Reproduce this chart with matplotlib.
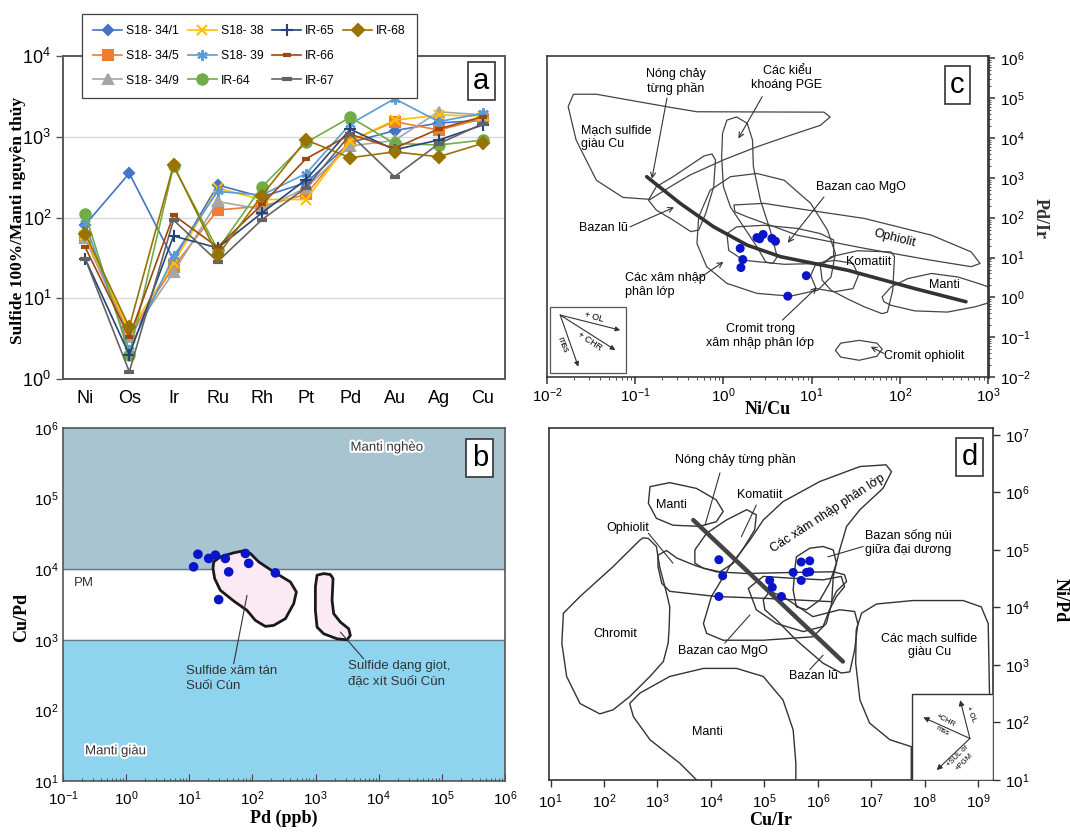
import numpy as np
import matplotlib.pyplot as plt
from matplotlib.patches import Polygon, Rectangle
from matplotlib.lines import Line2D
from matplotlib.ticker import LogLocator, NullFormatter
import matplotlib.patheffects as pe

SANS = ['Liberation Sans', 'DejaVu Sans']
SERIF = ['Liberation Serif', 'DejaVu Serif']
plt.rcParams['font.family'] = SANS
plt.rcParams['mathtext.fontset'] = 'custom'
plt.rcParams['mathtext.rm'] = 'Liberation Sans'
plt.rcParams['mathtext.it'] = 'Liberation Sans:italic'
plt.rcParams['mathtext.bf'] = 'Liberation Sans:bold'

# ---------------- (a) 100% sulfide / primitive mantle ----------------
elements = ['Ni', 'Os', 'Ir', 'Ru', 'Rh', 'Pt', 'Pd', 'Au', 'Ag', 'Cu']
s18_34_1 = [81, 353, 30, 252, 180, 270, 850, 1190, 1480, 1600]
s18_34_5 = [58, 3.5, 24.6, 124, 138, 193, 890, 1540, 1210, 1680]
s18_34_9 = [55, 3.3, 21, 158, 126, 234, 770, 900, 2040, 1860]
s18_38 = [60, 3.9, 27, 230, 167, 167, 890, 1600, 1860, 1800]
s18_39 = [85, 2.3, 33, 210, 190, 350, 1440, 2960, 1540, 1950]
ir_64 = [112, 2.0, 430, 40, 240, 850, 1740, 827, 790, 910]
ir_65 = [31, 2.0, 59, 42, 114, 295, 1240, 690, 910, 1400]
ir_66 = [43, 3.3, 107, 43, 145, 535, 1070, 720, 1250, 1780]
ir_67 = [31, 1.23, 93, 28.5, 94, 235, 1070, 320, 820, 1450]
ir_68 = [63, 4.4, 445, 34, 187, 912, 550, 650, 565, 830]

sample_names = ['S18- 34/1', 'S18- 34/5', 'S18- 34/9', 'S18- 38', 'S18- 39',
                'IR-64', 'IR-65', 'IR-66', 'IR-67', 'IR-68']
sample_values = [s18_34_1, s18_34_5, s18_34_9, s18_38, s18_39,
                 ir_64, ir_65, ir_66, ir_67, ir_68]
sample_colors = ['#4472C4', '#ED7D31', '#A5A5A5', '#FFC000', '#5B9BD5',
                 '#70AD47', '#264478', '#9E480E', '#636363', '#997300']
sample_markers = ['D', 's', '^', 'x', (6, 2, 0), 'o', '+', '_', '_', 'D']
sample_msize = [5.5, 6.5, 6.5, 6.5, 7.5, 7.5, 8.5, 6, 7, 6.5]

# ---------------- (b) Cu/Pd vs Pd ----------------
pd_ppb = [13.7, 11.7, 20.3, 25.9, 37.2, 77.3, 87.3, 42.1, 231, 29.2]
cu_pd = [16300, 10800, 14200, 15800, 14200, 16700, 12100, 9170, 8870, 3710]

# fields in log10 units (x, y)
field_disseminated = [(1.386, 4.104), (1.492, 4.175), (1.703, 4.232), (1.835, 4.256),
                      (1.967, 4.223), (2.099, 4.104), (2.337, 3.962), (2.601, 3.820),
                      (2.696, 3.678), (2.654, 3.512), (2.522, 3.299), (2.337, 3.204),
                      (2.205, 3.190), (2.046, 3.275), (1.914, 3.417), (1.703, 3.550),
                      (1.492, 3.701), (1.402, 3.867), (1.376, 4.009)]
field_massive = [(3.023, 3.915), (3.129, 3.938), (3.234, 3.924), (3.277, 3.867),
                 (3.261, 3.559), (3.287, 3.370), (3.393, 3.251), (3.525, 3.156),
                 (3.551, 3.062), (3.498, 3.000), (3.340, 3.014), (3.129, 3.085),
                 (3.023, 3.180), (2.997, 3.417), (2.997, 3.749)]

# ---------------- (c) Pd/Ir vs Ni/Cu ----------------
ni_cu = [2.40, 2.82, 2.57, 3.55, 3.89, 1.55, 1.66, 1.58, 8.71, 5.37]
pd_ir = [31.6, 38.0, 29.5, 30.2, 25.7, 17.0, 8.9, 5.6, 3.5, 1.07]

c_cu_veins = [(-1.70, 5.10), (-1.44, 5.10), (-1.06, 4.95), (-0.60, 4.77), (-0.30, 4.66),
              (1.14, 4.65), (1.21, 4.53), (1.10, 4.32), (0.76, 4.07), (0.38, 3.78),
              (0.00, 3.45), (-0.38, 3.07), (-0.60, 2.78), (-0.83, 2.46), (-1.14, 2.51),
              (-1.44, 2.94), (-1.67, 3.95), (-1.76, 4.79)]
c_flood = [(-0.85, 2.44), (-0.76, 2.78), (-0.57, 3.03), (-0.22, 3.55), (-0.13, 3.60),
           (-0.09, 3.45), (-0.11, 2.78), (-0.20, 2.11), (-0.28, 1.69), (-0.37, 1.65),
           (-0.57, 1.94), (-0.76, 2.19)]
c_pge = [(0.04, 4.45), (0.15, 4.53), (0.27, 4.37), (0.33, 3.95), (0.34, 3.28),
         (0.42, 2.44), (0.53, 1.69), (0.61, 1.02), (0.56, 0.85), (0.48, 0.89),
         (0.38, 1.27), (0.23, 1.77), (0.08, 2.27), (0.00, 2.78), (-0.02, 3.53),
         (-0.01, 4.12)]
c_layered = [(-0.28, 2.02), (-0.15, 2.69), (0.08, 3.03), (0.38, 3.11), (0.69, 2.94),
             (0.99, 2.36), (1.18, 1.69), (1.27, 1.10), (1.22, 0.51), (1.07, 0.18),
             (0.76, 0.03), (0.38, 0.10), (0.04, 0.35), (-0.19, 0.77), (-0.30, 1.35)]
c_high_mgo = [(0.04, 1.60), (0.15, 1.77), (0.46, 1.81), (0.84, 1.73), (1.10, 1.60),
              (1.25, 1.44), (1.25, 1.02), (1.10, 0.85), (0.69, 0.83), (0.23, 0.93),
              (0.06, 1.18)]
c_ophiolite = [(0.12, 2.32), (0.46, 2.36), (0.84, 2.23), (1.60, 1.98), (2.36, 1.56),
               (2.81, 1.14), (2.91, 0.85), (2.81, 0.77), (2.36, 0.93), (1.60, 1.23),
               (0.84, 1.56), (0.27, 2.02), (0.13, 2.15)]
c_komatiite = [(1.10, 0.77), (1.22, 1.02), (1.52, 1.17), (1.90, 1.14), (1.94, 1.02),
               (1.92, 0.18), (1.86, -0.37), (1.80, -0.41), (1.60, -0.24), (1.40, -0.03),
               (1.22, 0.18), (1.12, 0.43)]
c_chr_layered = [(0.99, 0.55), (1.05, 0.85), (1.26, 0.93), (1.47, 0.85), (1.53, 0.55),
                 (1.47, 0.22), (1.26, 0.14), (1.05, 0.22)]
c_mantle = [(1.80, 0.01), (1.90, 0.26), (2.09, 0.47), (2.36, 0.60), (2.66, 0.51),
            (2.89, 0.35), (3.11, 0.18), (3.11, -0.07), (2.85, -0.24), (2.54, -0.37),
            (2.17, -0.34), (1.90, -0.20), (1.82, -0.11)]
c_chr_ophiolite = [(1.27, -1.33), (1.33, -1.15), (1.54, -1.08), (1.74, -1.15), (1.80, -1.30),
                   (1.74, -1.48), (1.54, -1.58), (1.33, -1.50)]
c_melting_trend = [(-0.87, 3.03), (-0.49, 2.36), (-0.11, 1.77), (0.27, 1.31), (0.65, 1.02),
                   (1.03, 0.85), (1.41, 0.68), (1.79, 0.45), (2.17, 0.22), (2.75, -0.11)]

# ---------------- (d) Ni/Pd vs Cu/Ir ----------------
cu_ir = [14100, 16600, 14100, 126000, 141000, 209000, 347000, 490000, 708000, 708000,
         617000, 490000]
ni_pd = [67600, 35500, 15500, 29500, 22400, 15500, 40700, 61700, 64600, 41700,
         40700, 29500]

d_chromite = [(2.73, 5.21), (2.83, 5.20), (2.98, 5.06), (3.04, 4.71), (3.17, 4.25),
              (3.23, 4.01), (3.22, 3.67), (3.20, 3.38), (3.11, 3.06), (2.86, 2.80),
              (2.48, 2.45), (2.17, 2.22), (1.92, 2.15), (1.55, 2.33), (1.30, 2.80),
              (1.21, 3.38), (1.24, 3.90), (1.55, 4.19), (2.17, 4.71), (2.67, 5.17)]
d_mantle_low = [(2.48, 2.33), (2.67, 2.51), (3.23, 2.80), (3.86, 2.94), (4.48, 2.94),
                (4.98, 2.80), (5.35, 2.39), (5.54, 1.87), (5.59, 1.29), (5.59, 0.77),
                (3.98, 0.77), (3.42, 1.29), (2.86, 1.70), (2.55, 2.10)]
d_mantle_up = [(2.86, 6.10), (3.23, 6.17), (3.73, 6.07), (4.10, 5.87), (4.23, 5.67),
               (4.10, 5.49), (3.79, 5.41), (3.29, 5.43), (2.98, 5.55), (2.83, 5.81)]
d_komatiite = [(3.70, 4.77), (3.70, 5.00), (3.92, 5.29), (4.29, 5.52), (4.67, 5.70),
               (4.85, 5.61), (4.82, 5.35), (4.63, 5.06), (4.42, 4.77), (4.17, 4.62),
               (3.86, 4.68)]
d_ophiolite = [(3.01, 4.91), (3.17, 4.99), (3.36, 4.86), (3.73, 4.72), (4.10, 4.62),
               (4.67, 4.59), (5.60, 4.61), (6.29, 4.62), (6.50, 4.57), (6.54, 4.45),
               (6.35, 4.28), (6.26, 4.10), (4.98, 4.16), (4.10, 4.19), (3.23, 4.28),
               (3.08, 4.42), (3.01, 4.71)]
d_layered = [(3.86, 3.72), (4.01, 4.19), (4.35, 4.71), (4.73, 5.17), (4.98, 5.52),
             (5.35, 5.84), (6.04, 6.19), (6.79, 6.45), (7.28, 6.48), (7.38, 6.36),
             (7.22, 6.07), (6.79, 5.70), (6.54, 5.41), (6.41, 5.00), (6.29, 4.54),
             (6.26, 4.07), (6.16, 3.72), (5.91, 3.49), (4.98, 3.43), (4.23, 3.43),
             (3.92, 3.55)]
d_morb = [(5.60, 4.88), (5.85, 5.03), (6.10, 5.06), (6.29, 5.00), (6.35, 4.77),
          (6.22, 4.42), (6.04, 4.13), (5.79, 3.96), (5.60, 4.01), (5.54, 4.30),
          (5.57, 4.65)]
d_high_mgo = [(4.70, 4.33), (4.98, 4.54), (5.48, 4.51), (6.10, 4.48), (6.44, 4.54),
              (6.50, 4.36), (6.35, 4.19), (6.22, 3.96), (6.10, 3.67), (5.73, 3.58),
              (5.23, 3.72), (4.85, 3.96)]
d_flood = [(4.98, 4.13), (5.10, 4.28), (5.35, 4.19), (5.91, 3.84), (6.41, 3.96),
           (6.69, 3.93), (6.75, 3.72), (6.69, 3.26), (6.60, 2.88), (6.44, 2.86),
           (6.10, 3.03), (5.60, 3.43), (5.23, 3.78), (5.01, 3.96)]
d_cu_veins = [(6.72, 3.61), (6.82, 3.90), (7.10, 4.06), (7.78, 4.12), (8.72, 4.12),
              (9.06, 4.01), (9.19, 3.72), (9.25, 0.77), (7.75, 0.77), (7.75, 1.58),
              (7.35, 1.70), (6.97, 1.99), (6.79, 2.39), (6.71, 3.03)]
d_melting_trend = [(3.67, 5.52), (6.47, 3.06)]


def lg(pts):
    return np.power(10.0, np.asarray(pts, dtype=float))


def P(lx, ly):
    return (10.0 ** lx, 10.0 ** ly)


W, H = 1070, 832
fig = plt.figure(figsize=(W / 100, H / 100), dpi=100)


def add_axes_px(left, top, right, bottom):
    return fig.add_axes([left / W, 1 - bottom / H, (right - left) / W, (bottom - top) / H])


def log_ticks(axis):
    axis.set_major_locator(LogLocator(base=10, numticks=20))
    axis.set_minor_locator(LogLocator(base=10, subs=np.arange(2, 10), numticks=20))
    axis.set_minor_formatter(NullFormatter())


def frame(ax, color='#3a3a3a', lw=1.2):
    for s in ax.spines.values():
        s.set_color(color)
        s.set_linewidth(lw)


def letter(ax, ch, x, y):
    ax.text(x, y, ch, transform=ax.transAxes, fontsize=21, ha='center', va='center',
            zorder=10, bbox=dict(boxstyle='square,pad=0.18', fc='white', ec='#333333', lw=1.2))


def draw_field(ax, pts, lw=0.9, **kw):
    kw.setdefault('fc', 'none')
    kw.setdefault('ec', '#444444')
    ax.add_patch(Polygon(lg(pts), closed=True, lw=lw, joinstyle='round', zorder=2, **kw))


def arrow(ax, start, end, style='->', lw=0.8):
    ax.annotate('', xy=P(*end), xytext=P(*start),
                arrowprops=dict(arrowstyle=style, lw=lw, color='#333333',
                                shrinkA=0, shrinkB=0, mutation_scale=9), zorder=6)


# ====================== panel a ======================
ax_a = add_axes_px(63, 56, 505, 379)
xpos = np.arange(len(elements))
handles = []
for name, vals, col, mk, ms in zip(sample_names, sample_values, sample_colors,
                                   sample_markers, sample_msize):
    mew = 3 if mk == '_' else 1.5
    h, = ax_a.plot(xpos, vals, color=col, lw=1.2, marker=mk, ms=ms, mfc=col, mec=col,
                   mew=mew, label=name, zorder=3)
    handles.append(h)
ax_a.set_yscale('log')
ax_a.set_ylim(1, 1e4)
ax_a.set_xlim(-0.5, 9.5)
ax_a.set_xticks(xpos)
ax_a.set_xticklabels(elements, fontsize=13)
ax_a.tick_params(axis='x', length=0, pad=8)
ax_a.set_yticks([1, 10, 100, 1000, 10000])
ax_a.yaxis.set_minor_locator(plt.NullLocator())
ax_a.tick_params(axis='y', labelsize=13, length=5, width=1, color='#555555', direction='out')
ax_a.grid(axis='y', color='#d9d9d9', lw=1, zorder=0)
frame(ax_a, '#595959', 1.4)
letter(ax_a, 'a', 0.946, 0.923)
fig.text(18 / W, 1 - 220 / H, 'Sulfide 100%/Manti nguyên thủy', rotation=90,
         ha='center', va='center', fontsize=12.5, fontweight='bold', family=SERIF)

blank = Line2D([], [], lw=0, alpha=0)
leg = fig.legend(handles + [blank, blank], sample_names + [' ', ' '], ncol=4,
                 loc='upper left', bbox_to_anchor=(76 / W, 1 - 8 / H), frameon=True,
                 fancybox=False, edgecolor='#404040', framealpha=1, fontsize=8.8,
                 handlelength=2.4, handletextpad=0.3, columnspacing=0.7,
                 labelspacing=1.05, borderpad=0.9)
leg.get_frame().set_linewidth(0.9)

# ====================== panel b ======================
ax_b = add_axes_px(63, 428, 505, 781)
ax_b.set_xscale('log')
ax_b.set_yscale('log')
ax_b.set_xlim(0.1, 1e6)
ax_b.set_ylim(10, 1e6)
ax_b.axhspan(1e4, 1e6, color='#a7c4d0', zorder=0)
ax_b.axhspan(10, 1e3, color='#8fd4ef', zorder=0)
ax_b.axhline(1e4, color='#647a84', lw=1, zorder=1)
ax_b.axhline(1e3, color='#647a84', lw=1, zorder=1)
draw_field(ax_b, field_disseminated, lw=2, fc='#fbeaf4', ec='#1a1a1a')
draw_field(ax_b, field_massive, lw=2, fc='#fbeaf4', ec='#1a1a1a')
ax_b.scatter(pd_ppb, cu_pd, s=48, color='#0a14c8', edgecolors='none', zorder=5)
halo = [pe.withStroke(linewidth=3, foreground='white')]
ax_b.text(*P(4.13, 5.72), 'Manti nghèo', ha='center', va='center', fontsize=9.5,
          color='#333333', path_effects=halo)
ax_b.text(*P(-0.82, 3.80), 'PM', ha='left', va='center', fontsize=9.5, color='#333333')
ax_b.text(*P(-0.65, 1.42), 'Manti giàu', ha='left', va='center', fontsize=9.5,
          color='#333333', path_effects=halo)
ax_b.text(*P(0.95, 2.45), 'Sulfide xâm tán\nSuối Cùn', ha='left', va='center',
          fontsize=9.5, color='#333333', linespacing=1.3)
ax_b.text(*P(3.52, 2.52), 'Sulfide dạng giọt,\nđặc xít Suối Cùn', ha='left',
          va='center', fontsize=9.5, color='#333333', linespacing=1.3)
arrow(ax_b, (1.914, 3.630), (1.703, 2.66), style='-')
arrow(ax_b, (3.393, 3.109), (3.763, 2.73), style='-')
log_ticks(ax_b.xaxis)
log_ticks(ax_b.yaxis)
ax_b.tick_params(axis='x', which='both', direction='in', labelsize=11, color='#444444',
                 pad=6)
ax_b.tick_params(axis='x', which='major', length=5)
ax_b.tick_params(axis='x', which='minor', length=2.5)
ax_b.tick_params(axis='y', which='both', length=0, labelsize=11, pad=3)
frame(ax_b, '#555555', 1.2)
letter(ax_b, 'b', 0.943, 0.915)
ax_b.set_xlabel('Pd (ppb)', fontsize=13, fontweight='bold', family=SERIF, labelpad=1)
fig.text(22 / W, 1 - 618 / H, 'Cu/Pd', rotation=90, ha='center', va='center',
         fontsize=13, fontweight='bold', family=SERIF)

# ====================== panel c ======================
ax_c = add_axes_px(547, 56, 988, 377)
ax_c.set_xscale('log')
ax_c.set_yscale('log')
ax_c.set_xlim(1e-2, 1e3)
ax_c.set_ylim(1e-2, 10 ** 6.06)
for f in [c_cu_veins, c_flood, c_pge, c_layered, c_high_mgo, c_ophiolite,
          c_komatiite, c_chr_layered, c_mantle, c_chr_ophiolite]:
    draw_field(ax_c, f)
trend = lg(c_melting_trend)
ax_c.plot(trend[:, 0], trend[:, 1], color='#333333', lw=2.6, solid_capstyle='round', zorder=4)
ax_c.scatter(ni_cu, pd_ir, s=42, color='#0a14c8', edgecolors='none', zorder=5)

fs = 9
ax_c.text(*P(-0.54, 5.41), 'Nóng chảy\ntừng phần', ha='center', va='center', fontsize=fs)
arrow(ax_c, (-0.64, 5.0), (-0.81, 2.98))
ax_c.text(*P(0.72, 5.50), 'Các kiểu\nkhoáng PGE', ha='center', va='center', fontsize=fs)
arrow(ax_c, (0.44, 5.04), (0.17, 3.99))
ax_c.text(*P(-1.61, 4.03), 'Mạch sulfide\ngiàu Cu', ha='left', va='center', fontsize=fs)
ax_c.text(*P(-1.64, 1.75), 'Bazan lũ', ha='left', va='center', fontsize=fs)
arrow(ax_c, (-1.06, 1.77), (-0.56, 2.26))
ax_c.text(*P(1.05, 2.78), 'Bazan cao MgO', ha='left', va='center', fontsize=fs)
arrow(ax_c, (1.14, 2.52), (0.73, 1.37))
ax_c.text(*P(1.94, 1.48), 'Ophiolit', ha='center', va='center', fontsize=fs, rotation=-14)
ax_c.text(*P(1.65, 0.89), 'Komatiit', ha='center', va='center', fontsize=fs)
ax_c.text(*P(2.51, 0.30), 'Manti', ha='center', va='center', fontsize=fs)
ax_c.text(*P(-1.12, 0.30), 'Các xâm nhập\nphân lớp', ha='left', va='center', fontsize=fs)
arrow(ax_c, (-0.28, 0.47), (0.0, 0.89))
ax_c.text(*P(0.42, -0.98), 'Cromit trong\nxâm nhập phân lớp', ha='center', va='center',
          fontsize=fs)
arrow(ax_c, (0.67, -0.57), (1.06, 0.25))
ax_c.text(*P(1.82, -1.48), 'Cromit ophiolit', ha='left', va='center', fontsize=fs)
arrow(ax_c, (1.82, -1.41), (1.67, -1.24))

# vector inset
ax_c.add_patch(Rectangle((0.007, 0.012), 0.173, 0.206, transform=ax_c.transAxes,
                         fc='white', ec='#555555', lw=0.9, zorder=7))
o = (0.030, 0.193)
for tip in [(0.166, 0.146), (0.155, 0.084), (0.071, 0.032)]:
    ax_c.annotate('', xy=tip, xytext=o, xycoords='axes fraction',
                  arrowprops=dict(arrowstyle='-|>', lw=0.8, color='#333333',
                                  shrinkA=0, shrinkB=0, mutation_scale=7), zorder=8)
ax_c.text(0.106, 0.186, '+ OL', transform=ax_c.transAxes, fontsize=6.5, rotation=-15,
          ha='center', va='center', zorder=8)
ax_c.text(0.098, 0.112, '+ CHR', transform=ax_c.transAxes, fontsize=6.5, rotation=-33,
          ha='center', va='center', zorder=8)
ax_c.text(0.036, 0.100, 'mss', transform=ax_c.transAxes, fontsize=6.5, rotation=-68,
          ha='center', va='center', zorder=8)

log_ticks(ax_c.xaxis)
log_ticks(ax_c.yaxis)
ax_c.yaxis.tick_right()
ax_c.tick_params(axis='both', which='both', direction='out', labelsize=11, color='#333333')
ax_c.tick_params(axis='both', which='major', length=5, width=1.1)
ax_c.tick_params(axis='both', which='minor', length=2.5)
ax_c.tick_params(axis='x', pad=2)
frame(ax_c, '#3a3a3a', 1.2)
ax_c.spines['right'].set_linewidth(2)
letter(ax_c, 'c', 0.93, 0.91)
ax_c.set_xlabel('Ni/Cu', fontsize=13, fontweight='bold', family=SERIF, labelpad=-3)
fig.text(1040 / W, 1 - 218 / H, 'Pd/Ir', rotation=270, ha='center', va='center',
         fontsize=13, fontweight='bold', family=SERIF, color='#333333')

# ====================== panel d ======================
ax_d = add_axes_px(549, 428, 993, 780)
ax_d.set_xscale('log')
ax_d.set_yscale('log')
ax_d.set_xlim(10 ** 0.97, 10 ** 9.28)
ax_d.set_ylim(10, 10 ** 7.12)
for f in [d_chromite, d_mantle_low, d_mantle_up, d_komatiite, d_ophiolite, d_layered,
          d_morb, d_high_mgo, d_flood, d_cu_veins]:
    draw_field(ax_d, f, lw=1.0, ec='#333333')
trend = lg(d_melting_trend)
ax_d.plot(trend[:, 0], trend[:, 1], color='#444444', lw=3.2, solid_capstyle='round', zorder=4)
ax_d.scatter(cu_ir, ni_pd, s=42, color='#0a14c8', edgecolors='none', zorder=5)

ax_d.text(*P(4.45, 6.57), 'Nóng chảy từng phần', ha='center', va='center', fontsize=fs)
arrow(ax_d, (4.17, 6.34), (3.89, 5.43), style='-')
ax_d.text(*P(3.26, 5.78), 'Manti', ha='center', va='center', fontsize=fs)
ax_d.text(*P(4.92, 5.96), 'Komatiit', ha='center', va='center', fontsize=fs)
arrow(ax_d, (4.85, 5.78), (4.57, 5.23), style='-')
ax_d.text(*P(2.45, 5.38), 'Ophiolit', ha='center', va='center', fontsize=fs)
arrow(ax_d, (2.83, 5.29), (3.29, 4.77), style='-')
ax_d.text(*P(6.19, 5.64), 'Các xâm nhập phân lớp', ha='center', va='center',
          fontsize=fs, rotation=33)
ax_d.text(*P(6.88, 5.13), 'Bazan sống núi\ngiữa đại dương', ha='left', va='center',
          fontsize=fs)
arrow(ax_d, (6.85, 5.06), (6.19, 4.88), style='-')
ax_d.text(*P(2.22, 3.54), 'Chromit', ha='center', va='center', fontsize=fs)
ax_d.text(*P(4.23, 3.25), 'Bazan cao MgO', ha='center', va='center', fontsize=fs)
arrow(ax_d, (4.26, 3.38), (4.73, 3.87), style='-')
ax_d.text(*P(5.91, 2.80), 'Bazan lũ', ha='center', va='center', fontsize=fs)
arrow(ax_d, (5.85, 2.92), (6.10, 3.17), style='-')
ax_d.text(*P(8.09, 3.35), 'Các mạch sulfide\ngiàu Cu', ha='center', va='center',
          fontsize=fs)
ax_d.text(*P(3.94, 1.84), 'Manti', ha='center', va='center', fontsize=fs)

# vector inset
ax_d.add_patch(Rectangle((0.817, 0.0), 0.183, 0.244, transform=ax_d.transAxes,
                         fc='white', ec='#333333', lw=1.0, zorder=7))
o = (0.948, 0.118)
for tip in [(0.843, 0.178), (0.926, 0.227), (0.873, 0.028)]:
    ax_d.annotate('', xy=tip, xytext=o, xycoords='axes fraction',
                  arrowprops=dict(arrowstyle='-|>', lw=0.8, color='#333333',
                                  shrinkA=0, shrinkB=0, mutation_scale=8), zorder=8)
ax_d.text(0.893, 0.168, '+CHR', transform=ax_d.transAxes, fontsize=5.5, rotation=-28,
          ha='center', va='center', zorder=8)
ax_d.text(0.887, 0.140, 'mss', transform=ax_d.transAxes, fontsize=5.5, rotation=-28,
          ha='center', va='center', zorder=8)
ax_d.text(0.950, 0.188, '+ OL', transform=ax_d.transAxes, fontsize=5.5, rotation=-68,
          ha='center', va='center', zorder=8)
ax_d.text(0.928, 0.060, '+SUL or\n+PGM', transform=ax_d.transAxes, fontsize=5.5,
          rotation=45, ha='center', va='center', zorder=8)

log_ticks(ax_d.xaxis)
ax_d.yaxis.set_major_locator(LogLocator(base=10, numticks=20))
ax_d.yaxis.set_minor_locator(plt.NullLocator())
ax_d.xaxis.set_minor_locator(plt.NullLocator())
ax_d.yaxis.tick_right()
ax_d.tick_params(axis='both', which='major', direction='out', length=5, width=1,
                 labelsize=11, color='#333333')
ax_d.tick_params(axis='x', pad=4)
frame(ax_d, '#333333', 1.2)
letter(ax_d, 'd', 0.947, 0.918)
ax_d.set_xlabel('Cu/Ir', fontsize=13, fontweight='bold', family=SERIF, labelpad=1)
fig.text(1060 / W, 1 - 600 / H, 'Ni/Pd', rotation=270, ha='center', va='center',
         fontsize=13, fontweight='bold', family=SERIF)

fig.savefig('out.png', dpi=100)
